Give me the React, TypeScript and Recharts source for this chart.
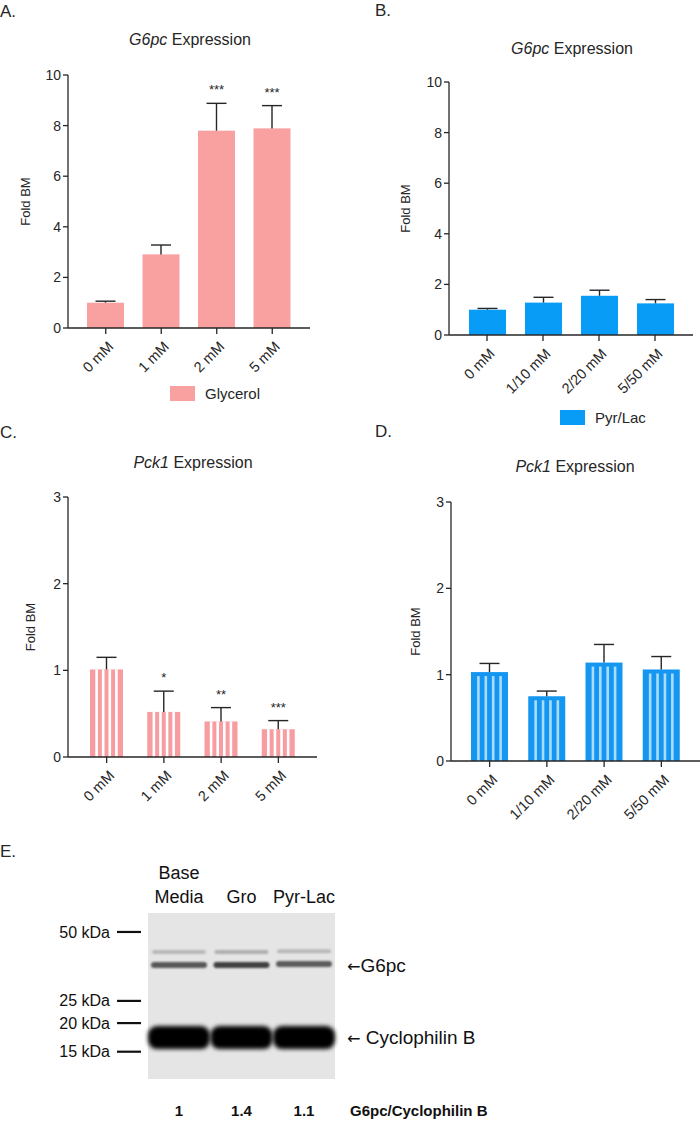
import React from "react";
import {
  BarChart,
  Bar,
  XAxis,
  YAxis,
  Legend,
  ComposedChart,
  Scatter,
  CartesianGrid,
  ReferenceLine,
} from "recharts";

const FONT = '"Liberation Sans", Arial, Helvetica, sans-serif';
const INK = "#262626";

// bar panels
const glycerolDoses = ["0 mM", "1 mM", "2 mM", "5 mM"];
const pyrLacDoses = ["0 mM", "1/10 mM", "2/20 mM", "5/50 mM"];

const g6pcGlycerol = [1.0, 2.91, 7.8, 7.89];
const g6pcGlycerolSem = [0.06, 0.37, 1.08, 0.9];
const g6pcGlycerolSig = ["", "", "***", "***"];

const g6pcPyrLac = [1.0, 1.28, 1.55, 1.25];
const g6pcPyrLacSem = [0.05, 0.21, 0.22, 0.15];
const g6pcPyrLacSig = ["", "", "", ""];

const pck1Glycerol = [1.01, 0.52, 0.41, 0.32];
const pck1GlycerolSem = [0.14, 0.24, 0.16, 0.1];
const pck1GlycerolSig = ["", "*", "**", "***"];

const pck1PyrLac = [1.03, 0.75, 1.14, 1.06];
const pck1PyrLacSem = [0.1, 0.06, 0.21, 0.15];
const pck1PyrLacSig = ["", "", "", ""];

const g6pcTicks = [0, 2, 4, 6, 8, 10];
const pck1Ticks = [0, 1, 2, 3];

// western blot (panel E)
const blotLanes = ["Base Media", "Gro", "Pyr-Lac"];
const blotRatio = ["1", "1.4", "1.1"];
const markerKDa = [50, 25, 20, 15];
const upperBandKDa = [40.9, 40.9, 41.2];
const g6pcBandKDa = [35.9, 35.9, 36.2];
const cycloBandKDa = [17.3, 17.3, 17.3];
const upperBandDensity = [0.2, 0.24, 0.2];
const g6pcBandDensity = [0.62, 0.72, 0.6];

const rows = (cats: string[], vals: number[], sem: number[], sig: string[]) =>
  cats.map((dose, i) => ({ dose, fold: vals[i], sem: sem[i], sig: sig[i] }));

const blotRows = blotLanes.map((lane, i) => ({
  lane,
  ratio: blotRatio[i],
  upper: upperBandKDa[i],
  g6pc: g6pcBandKDa[i],
  cyclo: cycloBandKDa[i],
  upperDensity: upperBandDensity[i],
  g6pcDensity: g6pcBandDensity[i],
}));

type Look = { fill: string; stripe?: string; rim: number };

// bar + upper SEM whisker + significance stars
function barShape(look: Look) {
  return (p: any) => {
    const { x, y, width, height, payload } = p;
    if (!height || height <= 0) return <g />;
    const perUnit = height / payload.fold;
    const cx = x + width / 2;
    const top = y - payload.sem * perUnit;
    const stripes = [];
    if (look.stripe) {
      for (let k = 1; k < 5; k++) {
        stripes.push(
          <rect
            key={k}
            x={x + (width * k) / 5 - 1.3}
            y={y + look.rim}
            width={2.6}
            height={Math.max(0, height - look.rim)}
            fill={look.stripe}
          />
        );
      }
    }
    return (
      <g>
        <rect x={x} y={y} width={width} height={height} fill={look.fill} />
        {stripes}
        <line x1={cx} y1={y} x2={cx} y2={top} stroke={INK} strokeWidth={1.4} />
        <line x1={cx - 10} y1={top} x2={cx + 10} y2={top} stroke={INK} strokeWidth={1.4} />
        {payload.sig ? (
          <text x={cx} y={top - 9} textAnchor="middle" fontSize={13} fill={INK} fontFamily={FONT}>
            {payload.sig}
          </text>
        ) : null}
      </g>
    );
  };
}

function AngledTick(props: any) {
  const { x, y, payload } = props;
  const px = x + 5;
  const py = y + 8;
  return (
    <text
      x={px}
      y={py}
      dy="0.35em"
      textAnchor="end"
      transform={`rotate(-45 ${px} ${py})`}
      fontSize={14.5}
      fill={INK}
      fontFamily={FONT}
    >
      {payload.value}
    </text>
  );
}

type PanelProps = {
  left: number;
  top: number;
  width: number;
  height: number;
  margin: { top: number; right: number; bottom: number; left: number };
  axisWidth: number;
  data: any[];
  domain: [number, number];
  ticks: number[];
  barSize: number;
  look: Look;
  labelOffset: number;
  legend?: { name: string; color: string; top: number; left: number };
};

function BarPanel(pp: PanelProps) {
  return (
    <div style={{ position: "absolute", left: pp.left, top: pp.top }}>
      <BarChart width={pp.width} height={pp.height} data={pp.data} margin={pp.margin}>
        <XAxis
          dataKey="dose"
          height={50}
          interval={0}
          padding={{ left: 10, right: 10 }}
          tickSize={6}
          axisLine={{ stroke: INK, strokeWidth: 1.3 }}
          tickLine={{ stroke: INK, strokeWidth: 1.3 }}
          tick={AngledTick}
        />
        <YAxis
          type="number"
          domain={pp.domain}
          ticks={pp.ticks}
          interval={0}
          width={pp.axisWidth}
          tickSize={5}
          axisLine={{ stroke: INK, strokeWidth: 1.3 }}
          tickLine={{ stroke: INK, strokeWidth: 1.3 }}
          tick={{ fontSize: 14, fill: INK, fontFamily: FONT }}
          label={{
            value: "Fold BM",
            angle: -90,
            position: "insideLeft",
            offset: pp.labelOffset,
            style: { textAnchor: "middle", fontSize: 13, fill: INK, fontFamily: FONT },
          }}
        />
        {pp.legend ? (
          <Legend
            layout="horizontal"
            align="center"
            verticalAlign="middle"
            wrapperStyle={{ top: pp.legend.top, left: pp.legend.left, width: "auto", height: "auto" }}
            content={() => (
              <div style={{ display: "flex", alignItems: "center", fontFamily: FONT }}>
                <span style={{ display: "inline-block", width: 25, height: 15, background: pp.legend!.color }} />
                <span style={{ marginLeft: 10, fontSize: 15, color: INK, lineHeight: "17px" }}>{pp.legend!.name}</span>
              </div>
            )}
          />
        ) : null}
        <Bar dataKey="fold" barSize={pp.barSize} isAnimationActive={false} shape={barShape(pp.look)} />
      </BarChart>
    </div>
  );
}

function Txt({ x, y, size, center, children, bold }: any) {
  return (
    <div
      style={{
        position: "absolute",
        left: x,
        top: y,
        transform: center ? "translate(-50%, -50%)" : "translate(0, -50%)",
        fontSize: size,
        lineHeight: 1,
        whiteSpace: "nowrap",
        fontWeight: bold ? "bold" : "normal",
        color: INK,
      }}
    >
      {children}
    </div>
  );
}

function LaneTick(props: any) {
  const { x, y, payload } = props;
  const lines = String(payload.value).split(" ");
  return (
    <text x={x} y={y} textAnchor="middle" fontSize={18} fill="#111" fontFamily={FONT}>
      {lines.map((ln, i) => (
        <tspan key={i} x={x} y={y - 10 - (lines.length - 1 - i) * 24}>
          {ln}
        </tspan>
      ))}
    </text>
  );
}

function RatioTick(props: any) {
  const { x, y, payload } = props;
  return (
    <text x={x} y={y + 37} textAnchor="middle" fontSize={15} fontWeight="bold" fill="#111" fontFamily={FONT}>
      {payload.value}
    </text>
  );
}

function MarkerTick(props: any) {
  const { x, y, payload } = props;
  return (
    <g>
      <line x1={x - 31} x2={x - 7} y1={y} y2={y} stroke="#111" strokeWidth={2.2} />
      <text x={x - 38} y={y} dy="0.35em" textAnchor="end" fontSize={16} fill="#111" fontFamily={FONT}>
        {payload.value} kDa
      </text>
    </g>
  );
}

function RatioTitle(props: any) {
  const vb = props.viewBox || { x: 148, y: 249, width: 187, height: 42 };
  return (
    <text x={vb.x + vb.width + 15} y={vb.y + 37} fontSize={15} fontWeight="bold" fill="#111" fontFamily={FONT}>
      G6pc/Cyclophilin B
    </text>
  );
}

// "← name" label to the right of the gel, at the band's height
const arrowLabel = (name: string, gap: string) => (props: any) => {
  const vb = props.viewBox;
  if (!vb) return null;
  return (
    <text x={vb.x + (vb.width || 0) + 12} y={vb.y} dy="0.35em" fontSize={19} fill="#111" fontFamily={FONT}>
      <tspan fontFamily='"DejaVu Sans", sans-serif' fontSize={16}>{"\u2190"}</tspan>
      <tspan>{gap + name}</tspan>
    </text>
  );
};

const band = (w: number, h: number, rx: number, key: string | null, filter: string) => (p: any) => {
  const { cx, cy, payload } = p;
  if (cx == null || cy == null) return <g />;
  return (
    <rect
      x={cx - w / 2}
      y={cy - h / 2}
      width={w}
      height={h}
      rx={rx}
      fill="#000"
      fillOpacity={key ? payload[key] : 1}
      filter={`url(#${filter})`}
    />
  );
};

function Blot() {
  return (
    <div style={{ position: "absolute", left: 0, top: 830 }}>
      <ComposedChart width={700} height={291} data={blotRows} margin={{ top: 33, right: 365, bottom: 0, left: 0 }}>
        <defs>
          <filter id="blurThin" filterUnits="userSpaceOnUse" x="0" y="0" width="700" height="291">
            <feGaussianBlur stdDeviation="1.3" />
          </filter>
          <filter id="blurWide" filterUnits="userSpaceOnUse" x="0" y="0" width="700" height="291">
            <feGaussianBlur stdDeviation="2" />
          </filter>
        </defs>
        <XAxis
          xAxisId="lanes"
          dataKey="lane"
          orientation="top"
          height={50}
          padding={{ left: 31, right: 31 }}
          axisLine={false}
          tickLine={false}
          tickSize={0}
          tickMargin={0}
          interval={0}
          tick={LaneTick}
        />
        <XAxis
          xAxisId="ratio"
          dataKey="ratio"
          orientation="bottom"
          height={42}
          padding={{ left: 31, right: 31 }}
          axisLine={false}
          tickLine={false}
          tickSize={0}
          tickMargin={0}
          interval={0}
          tick={RatioTick}
          label={{ content: RatioTitle }}
        />
        <YAxis
          type="number"
          scale="log"
          domain={[11.4, 60.5]}
          allowDataOverflow
          ticks={markerKDa}
          interval={0}
          width={148}
          axisLine={false}
          tickLine={false}
          tickSize={0}
          tickMargin={0}
          tick={MarkerTick}
        />
        <CartesianGrid xAxisId="lanes" horizontal={false} vertical={false} fill="#e5e5e5" />
        <Scatter xAxisId="lanes" dataKey="upper" isAnimationActive={false} shape={band(54, 4, 2, "upperDensity", "blurThin")} />
        <Scatter xAxisId="lanes" dataKey="g6pc" isAnimationActive={false} shape={band(56, 6, 3, "g6pcDensity", "blurThin")} />
        <Scatter xAxisId="ratio" dataKey="cyclo" isAnimationActive={false} shape={band(62, 23, 9, null, "blurWide")} />
        <ReferenceLine
          xAxisId="lanes"
          y={g6pcBandKDa[0]}
          stroke="none"
          label={{ content: arrowLabel("G6pc", "") }}
        />
        <ReferenceLine
          xAxisId="lanes"
          y={cycloBandKDa[0]}
          stroke="none"
          label={{ content: arrowLabel("Cyclophilin B", " ") }}
        />
      </ComposedChart>
    </div>
  );
}

export default function App() {
  return (
    <div
      style={{
        position: "absolute",
        left: 0,
        top: 0,
        width: 700,
        height: 1121,
        background: "#fff",
        fontFamily: FONT,
        overflow: "hidden",
      }}
    >
      <Txt x={0} y={11} size={17}>A.</Txt>
      <Txt x={375} y={10} size={17}>B.</Txt>
      <Txt x={0} y={432} size={17}>C.</Txt>
      <Txt x={375} y={431} size={17}>D.</Txt>
      <Txt x={0} y={851} size={17}>E.</Txt>

      <Txt x={190} y={40} size={16} center>
        <i>G6pc</i> Expression
      </Txt>
      <Txt x={572} y={49} size={16} center>
        <i>G6pc</i> Expression
      </Txt>
      <Txt x={193} y={463} size={16} center>
        <i>Pck1</i> Expression
      </Txt>
      <Txt x={575} y={467} size={16} center>
        <i>Pck1</i> Expression
      </Txt>

      <BarPanel
        left={0}
        top={0}
        width={340}
        height={410}
        margin={{ top: 75, right: 30, bottom: 32, left: 0 }}
        axisWidth={68}
        data={rows(glycerolDoses, g6pcGlycerol, g6pcGlycerolSem, g6pcGlycerolSig)}
        domain={[0, 10]}
        ticks={g6pcTicks}
        barSize={37}
        look={{ fill: "#f9a0a1", rim: 0 }}
        labelOffset={25}
        legend={{ name: "Glycerol", color: "#f9a0a1", top: 385, left: 170 }}
      />
      <BarPanel
        left={350}
        top={0}
        width={350}
        height={440}
        margin={{ top: 82, right: 7, bottom: 55, left: 40 }}
        axisWidth={59}
        data={rows(pyrLacDoses, g6pcPyrLac, g6pcPyrLacSem, g6pcPyrLacSig)}
        domain={[0, 10]}
        ticks={g6pcTicks}
        barSize={37}
        look={{ fill: "#089cf6", rim: 0 }}
        labelOffset={15}
        legend={{ name: "Pyr/Lac", color: "#089cf6", top: 409, left: 210 }}
      />
      <BarPanel
        left={0}
        top={440}
        width={340}
        height={388}
        margin={{ top: 57, right: 23, bottom: 21, left: 0 }}
        axisWidth={68}
        data={rows(glycerolDoses, pck1Glycerol, pck1GlycerolSem, pck1GlycerolSig)}
        domain={[0, 3]}
        ticks={pck1Ticks}
        barSize={33}
        look={{ fill: "#f79ca0", stripe: "#ffffff", rim: 0 }}
        labelOffset={30}
      />
      <BarPanel
        left={350}
        top={440}
        width={350}
        height={388}
        margin={{ top: 62, right: 0, bottom: 17, left: 40 }}
        axisWidth={61}
        data={rows(pyrLacDoses, pck1PyrLac, pck1PyrLacSem, pck1PyrLacSig)}
        domain={[0, 3]}
        ticks={pck1Ticks}
        barSize={37}
        look={{ fill: "#1597f1", stripe: "#aadcff", rim: 4 }}
        labelOffset={25}
      />

      <Blot />
    </div>
  );
}
